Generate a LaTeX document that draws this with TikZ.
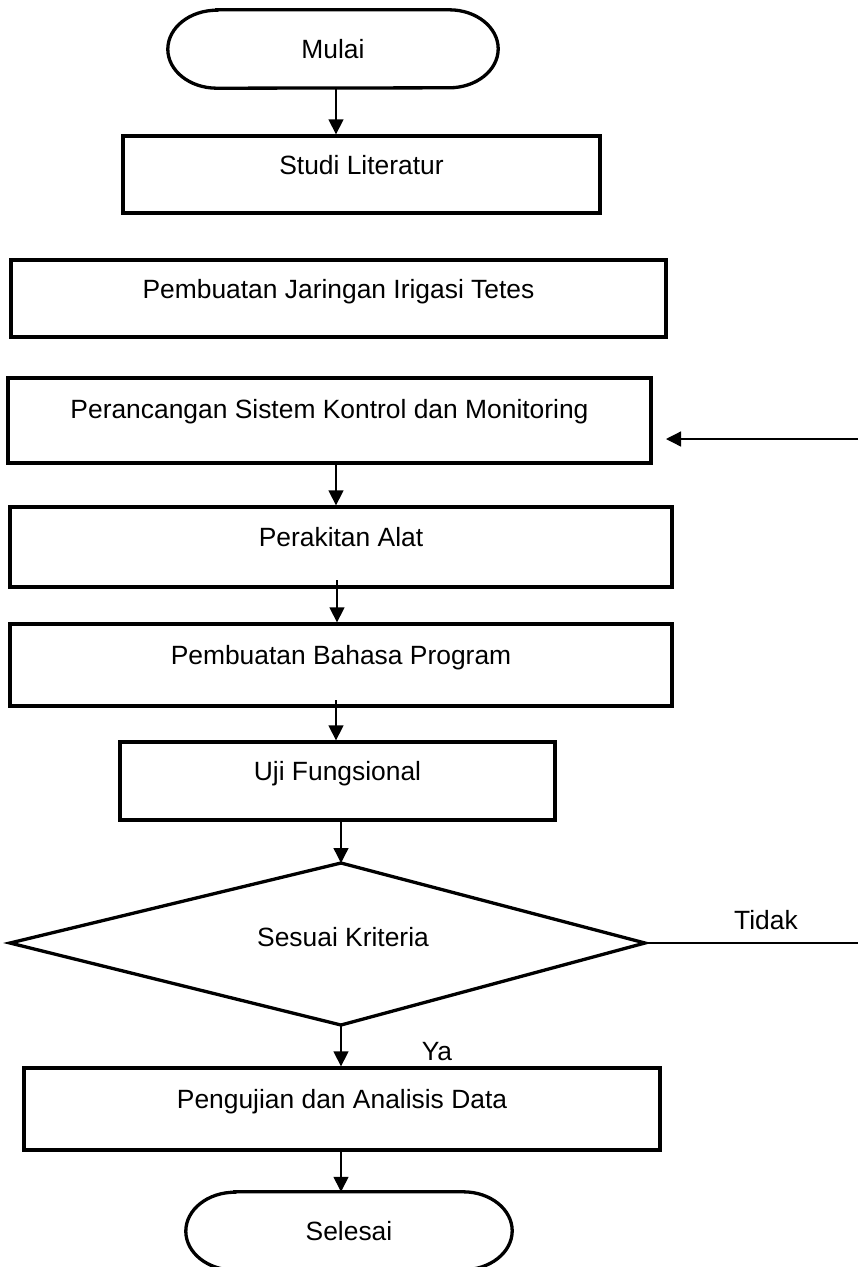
\documentclass[tikz,border=0pt]{standalone}
\usepackage{fontspec}
\setmainfont{Liberation Sans}
\usetikzlibrary{arrows.meta}
\begin{document}
\begin{tikzpicture}[x=1pt,y=1pt,
  every node/.style={font=\fontsize{26.4}{30}\selectfont},
  box/.style={draw, line width=3.3pt, rectangle, inner sep=0pt, text height=19pt, text depth=5.5pt},
  termshape/.style={line width=3.3pt},
  arr/.style={line width=1.3pt, -{Triangle[width=15pt,length=15pt]}},
  plain/.style={line width=1.3pt}
]
\useasboundingbox (0,0) rectangle (858,-1267);

% terminal: Mulai
\node[inner sep=0pt, minimum width=330, minimum height=78] (mulai) at (333,-49) {Mulai};
\draw[termshape] ([xshift=49pt]mulai.north west) -- ([xshift=-49pt]mulai.north east)
  arc[start angle=90, end angle=-90, x radius=49pt, y radius=39pt]
  -- ([xshift=49pt]mulai.south west)
  arc[start angle=270, end angle=90, x radius=49pt, y radius=39pt] -- cycle;

\node[box, minimum width=477, minimum height=77] (studi) at (361.5,-174.5) {\raisebox{7pt}{Studi Literatur}};
\node[box, minimum width=655, minimum height=77] (jaringan) at (338.5,-298.5) {\raisebox{7pt}{Pembuatan Jaringan Irigasi Tetes}};
\node[box, minimum width=643, minimum height=85] (rancang) at (329.5,-420.5) {\raisebox{9pt}{Perancangan Sistem Kontrol dan Monitoring}};
\node[box, minimum width=662, minimum height=80] (rakit) at (341,-547) {\raisebox{7pt}{Perakitan Alat}};
\node[box, minimum width=662, minimum height=82] (bahasa) at (341,-665) {\raisebox{7pt}{Pembuatan Bahasa Program}};
\node[box, minimum width=435, minimum height=78] (uji) at (337.5,-781) {\raisebox{7pt}{Uji Fungsional}};

% decision
\coordinate (dtop) at (341,-863);
\coordinate (dbot) at (341,-1025);
\coordinate (dleft) at (10,-943);
\coordinate (dright) at (645,-943);
\draw[line width=3.3pt, line join=miter] (dtop) -- (dright) -- (dbot) -- (dleft) -- cycle;
\node (kriteria) at (343,-937) {Sesuai Kriteria};

\node[box, minimum width=636, minimum height=82] (uji2) at (342,-1109) {\raisebox{7pt}{Pengujian dan Analisis Data}};

% terminal: Selesai
\node[inner sep=0pt, minimum width=326, minimum height=78] (selesai) at (349,-1231) {Selesai};
\draw[termshape] ([xshift=49pt]selesai.north west) -- ([xshift=-49pt]selesai.north east)
  arc[start angle=90, end angle=-90, x radius=49pt, y radius=39pt]
  -- ([xshift=49pt]selesai.south west)
  arc[start angle=270, end angle=90, x radius=49pt, y radius=39pt] -- cycle;

% connectors
\coordinate (a1) at (336,-88);
\draw[arr] (a1) -- (a1 |- studi.north);
\coordinate (a2) at (336,-463);
\draw[arr] (a2) -- (a2 |- rakit.north);
\coordinate (a3) at (337,-580);
\draw[arr] (a3) -- (a3 |- bahasa.north);
\coordinate (a4) at (336,-700);
\draw[arr] (a4) -- (a4 |- uji.north);
\draw[arr] (dtop |- uji.south) -- (dtop);
\draw[arr] (dbot) -- (dbot |- uji2.north);
\draw[arr] (dbot |- uji2.south) -- (dbot |- selesai.north);

% Tidak branch
\coordinate (tidakend) at (858,-943);
\draw[plain] (dright) -- (tidakend);
\node (tidak) at (766,-920) {Tidak};
\node (ya) at (437,-1052) {Ya};

% feedback arrow
\coordinate (fbstart) at (858,-439);
\coordinate (fbend) at (666,-439);
\draw[arr] (fbstart) -- (fbend);
\end{tikzpicture}
\end{document}
